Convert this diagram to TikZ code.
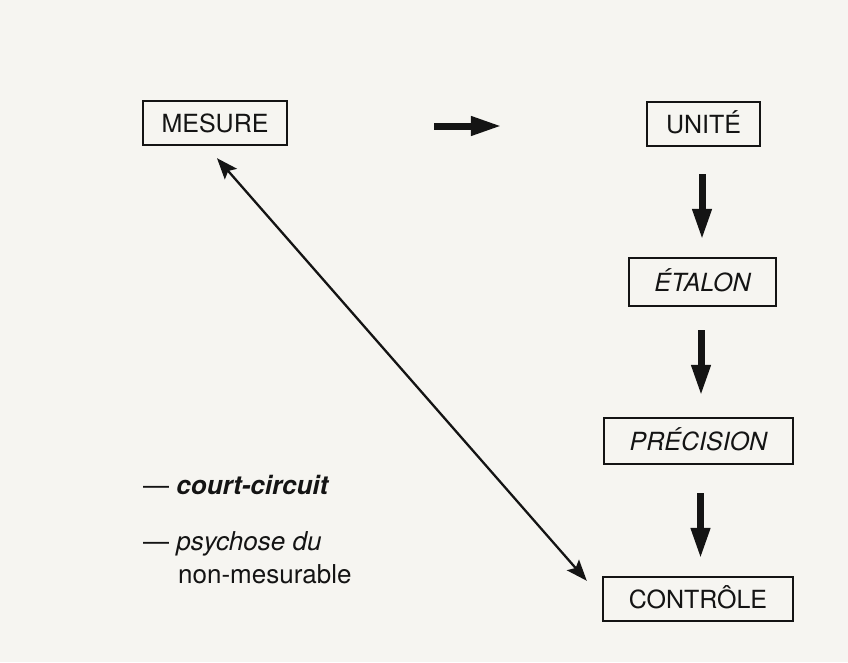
\documentclass[tikz,border=0pt]{standalone}
\usepackage{fontspec}
\setmainfont{TeX Gyre Heros}
\usetikzlibrary{arrows.meta}

\definecolor{paper}{RGB}{246,245,241}
\definecolor{ink}{RGB}{20,20,20}

\tikzset{
  linkhead/.tip={Stealth[length=21pt, width=16pt, inset=4pt]},
  termbox/.style={draw=ink, line width=2.4pt, inner sep=0pt, text=ink,
    font=\fontsize{25}{30}\selectfont, text height=18pt, text depth=0pt},
  bigarrow/.style={draw=ink, line width=7pt,
    -{Triangle[length=31pt, width=18pt]}},
  linkarrow/.style={draw=ink, line width=2.3pt, linkhead-linkhead},
  legend/.style={anchor=base west, inner sep=0pt, text=ink,
    font=\fontsize{26}{31}\selectfont}
}

\begin{document}
\begin{tikzpicture}[x=1pt, y=-1pt]
  % page background
  \fill[paper] (0,0) rectangle (848,662);
  \useasboundingbox (0,0) rectangle (848,662);

  % boxes
  \node[termbox, minimum width=144pt, minimum height=44pt] (mesure)   at (215,123)   {MESURE};
  \node[termbox, minimum width=113pt, minimum height=44pt] (unite)    at (703.5,124) {UNITÉ};
  \node[termbox, minimum width=147pt, minimum height=48pt] (etalon)   at (702.5,282) {\itshape ÉTALON};
  \node[termbox, minimum width=189pt, minimum height=46pt] (precision) at (698.5,441) {\itshape PRÉCISION};
  \node[termbox, minimum width=190pt, minimum height=44pt] (controle) at (698,599)   {CONTRÔLE};

  % heavy arrows of the main chain
  \draw[bigarrow, shorten <=146pt, shorten >=144pt]
    ([yshift=-3pt]mesure.east) -- ([yshift=-2pt]unite.west);
  \draw[bigarrow, shorten <=27pt, shorten >=17pt]
    ([xshift=-1.5pt]unite.south) -- ([xshift=-0.5pt]etalon.north);
  \draw[bigarrow, shorten <=23pt, shorten >=21pt]
    ([xshift=-1.5pt]etalon.south) -- ([xshift=2.5pt]precision.north);
  \draw[bigarrow, shorten <=28pt, shorten >=17pt]
    ([xshift=2pt]precision.south) -- ([xshift=2.5pt]controle.north);

  % short-circuit link
  \coordinate (linkA) at ([shift={(2pt,-12pt)}]mesure.south);
  \coordinate (linkB) at ([shift={(-15pt,-5pt)}]controle.north west);
  \draw[linkarrow] (linkA) -- (linkB);

  % legend
  \node[legend] (leg1) at (143,494) {— \bfseries\itshape court-circuit};
  \node[legend] (leg2) at (143,550) {— \itshape psychose du};
  \node[legend] (leg3) at (178,583) {non-mesurable};
\end{tikzpicture}
\end{document}
